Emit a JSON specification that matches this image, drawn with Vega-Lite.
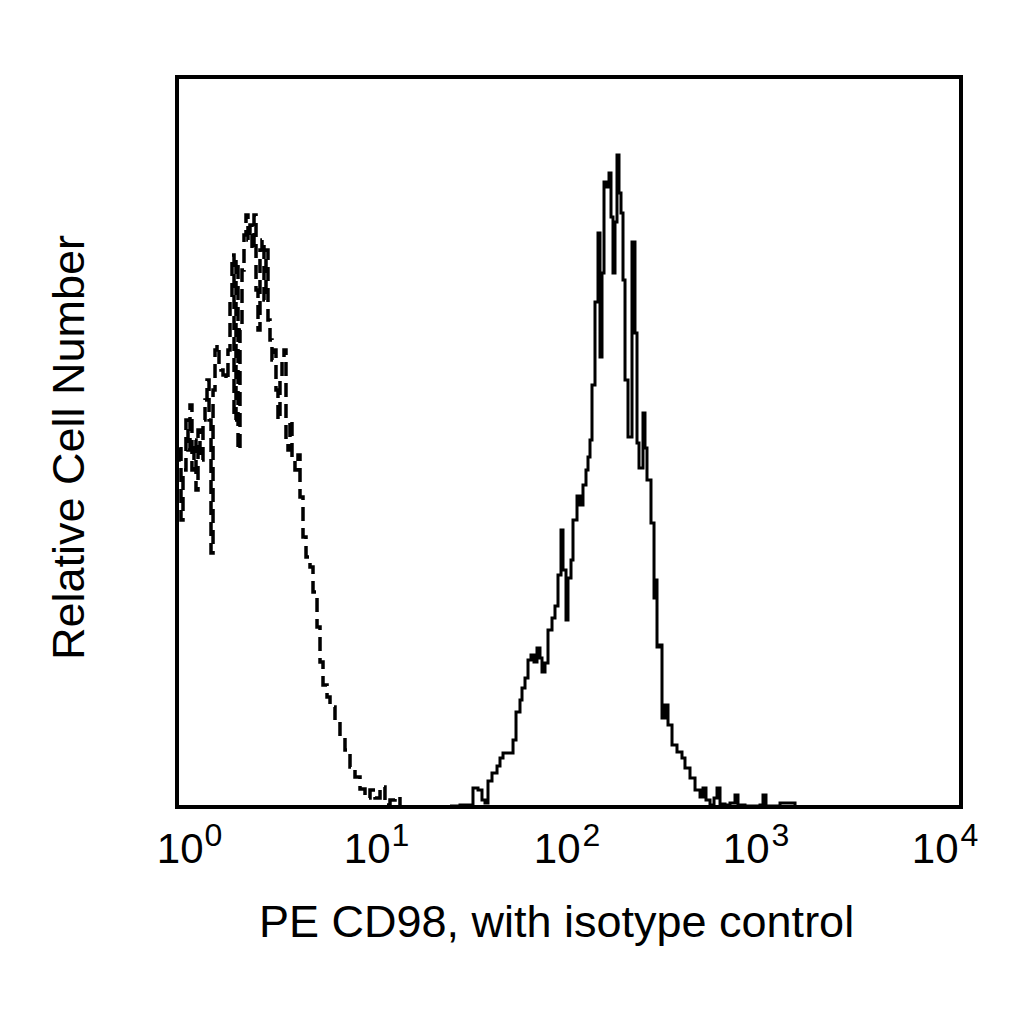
{
  "$schema": "https://vega.github.io/schema/vega-lite/v6.json",
  "width": 784,
  "height": 730,
  "autosize": {"type": "none"},
  "padding": {"left": 177, "top": 77, "right": 63, "bottom": 217},
  "background": "white",
  "config": {
    "view": {"stroke": "black", "strokeWidth": 4},
    "font": "Liberation Sans"
  },
  "datasets": {
    "cd98": [
      {"x": 24.71, "count": 1}, {"x": 27.79, "count": 2}, {"x": 31.26, "count": 2}, {"x": 32.37, "count": 19},
      {"x": 34.34, "count": 17}, {"x": 35.98, "count": 7}, {"x": 37.27, "count": 4}, {"x": 38.61, "count": 26},
      {"x": 40.47, "count": 34}, {"x": 42.93, "count": 41}, {"x": 44.46, "count": 49}, {"x": 46.06, "count": 54},
      {"x": 51.81, "count": 67}, {"x": 53.66, "count": 95}, {"x": 56.23, "count": 107}, {"x": 57.57, "count": 119},
      {"x": 59.64, "count": 129}, {"x": 61.78, "count": 147}, {"x": 63.99, "count": 152}, {"x": 66.29, "count": 145},
      {"x": 68.66, "count": 159}, {"x": 71.12, "count": 149}, {"x": 72.82, "count": 135}, {"x": 75.44, "count": 144},
      {"x": 78.14, "count": 177}, {"x": 81.9, "count": 189}, {"x": 84.83, "count": 201}, {"x": 87.88, "count": 232},
      {"x": 91.03, "count": 277}, {"x": 93.2, "count": 237}, {"x": 96.54, "count": 187}, {"x": 98.83, "count": 229},
      {"x": 102.38, "count": 247}, {"x": 104.81, "count": 287}, {"x": 109.86, "count": 311}, {"x": 113.8, "count": 302},
      {"x": 117.87, "count": 322}, {"x": 122.1, "count": 337}, {"x": 125.01, "count": 350}, {"x": 127.98, "count": 367},
      {"x": 131.02, "count": 422}, {"x": 135.72, "count": 505}, {"x": 140.6, "count": 574}, {"x": 143.94, "count": 450},
      {"x": 147.36, "count": 534}, {"x": 150.87, "count": 625}, {"x": 156.3, "count": 620}, {"x": 160.0, "count": 634},
      {"x": 163.8, "count": 590}, {"x": 167.68, "count": 534}, {"x": 171.67, "count": 585}, {"x": 175.75, "count": 652},
      {"x": 179.93, "count": 614}, {"x": 184.2, "count": 594}, {"x": 188.6, "count": 527}, {"x": 193.1, "count": 427},
      {"x": 200.0, "count": 370}, {"x": 209.62, "count": 565}, {"x": 217.1, "count": 474}, {"x": 222.3, "count": 364},
      {"x": 227.6, "count": 339}, {"x": 238.51, "count": 394}, {"x": 244.18, "count": 359}, {"x": 249.99, "count": 327},
      {"x": 262.0, "count": 284}, {"x": 271.5, "count": 209}, {"x": 274.7, "count": 227}, {"x": 281.2, "count": 160},
      {"x": 291.3, "count": 162}, {"x": 298.2, "count": 89}, {"x": 308.9, "count": 102}, {"x": 320.0, "count": 82},
      {"x": 335.4, "count": 62}, {"x": 355.6, "count": 55}, {"x": 377.1, "count": 49}, {"x": 390.6, "count": 39},
      {"x": 414.3, "count": 29}, {"x": 439.5, "count": 17}, {"x": 466.1, "count": 10}, {"x": 482.8, "count": 19},
      {"x": 500.0, "count": 7}, {"x": 524.1, "count": 2}, {"x": 549.4, "count": 9}, {"x": 569.1, "count": 19},
      {"x": 589.5, "count": 3}, {"x": 625.2, "count": 2}, {"x": 662.9, "count": 4}, {"x": 703.0, "count": 12},
      {"x": 728.2, "count": 2}, {"x": 790.7, "count": 1}, {"x": 943.0, "count": 2}, {"x": 976.8, "count": 12},
      {"x": 1011.8, "count": 1}, {"x": 1192.9, "count": 4}, {"x": 1341.8, "count": 4}, {"x": 1422.9, "count": 1}
    ],
    "isotype": [
      {"x": 1.0, "count": 347}, {"x": 1.024, "count": 362}, {"x": 1.048, "count": 287}, {"x": 1.073, "count": 337},
      {"x": 1.111, "count": 387}, {"x": 1.138, "count": 357}, {"x": 1.165, "count": 402}, {"x": 1.192, "count": 337},
      {"x": 1.221, "count": 367}, {"x": 1.25, "count": 317}, {"x": 1.28, "count": 377}, {"x": 1.31, "count": 347},
      {"x": 1.357, "count": 387}, {"x": 1.39, "count": 407}, {"x": 1.423, "count": 427}, {"x": 1.457, "count": 387},
      {"x": 1.491, "count": 254}, {"x": 1.527, "count": 417}, {"x": 1.563, "count": 457}, {"x": 1.6, "count": 462},
      {"x": 1.638, "count": 442}, {"x": 1.677, "count": 437}, {"x": 1.717, "count": 432}, {"x": 1.778, "count": 427},
      {"x": 1.82, "count": 457}, {"x": 1.864, "count": 507}, {"x": 1.908, "count": 552}, {"x": 1.954, "count": 387},
      {"x": 2.0, "count": 547}, {"x": 2.048, "count": 357}, {"x": 2.096, "count": 477}, {"x": 2.146, "count": 537},
      {"x": 2.197, "count": 572}, {"x": 2.249, "count": 592}, {"x": 2.302, "count": 567}, {"x": 2.357, "count": 582},
      {"x": 2.414, "count": 557}, {"x": 2.471, "count": 592}, {"x": 2.53, "count": 517}, {"x": 2.59, "count": 477},
      {"x": 2.651, "count": 557}, {"x": 2.714, "count": 567}, {"x": 2.779, "count": 507}, {"x": 2.845, "count": 557},
      {"x": 2.912, "count": 487}, {"x": 2.982, "count": 467}, {"x": 3.052, "count": 447}, {"x": 3.125, "count": 457},
      {"x": 3.199, "count": 417}, {"x": 3.275, "count": 387}, {"x": 3.353, "count": 427}, {"x": 3.434, "count": 447},
      {"x": 3.515, "count": 457}, {"x": 3.598, "count": 367}, {"x": 3.684, "count": 357}, {"x": 3.771, "count": 387},
      {"x": 3.861, "count": 347}, {"x": 3.999, "count": 337}, {"x": 4.143, "count": 352}, {"x": 4.242, "count": 310},
      {"x": 4.394, "count": 270}, {"x": 4.552, "count": 250}, {"x": 4.771, "count": 240}, {"x": 4.942, "count": 215},
      {"x": 5.181, "count": 180}, {"x": 5.366, "count": 145}, {"x": 5.558, "count": 122}, {"x": 5.827, "count": 110},
      {"x": 6.035, "count": 100}, {"x": 6.399, "count": 85}, {"x": 6.785, "count": 70}, {"x": 7.196, "count": 57},
      {"x": 7.633, "count": 40}, {"x": 8.094, "count": 30}, {"x": 8.585, "count": 18}, {"x": 9.103, "count": 9},
      {"x": 9.654, "count": 17}, {"x": 10.24, "count": 9}, {"x": 10.86, "count": 20}, {"x": 11.51, "count": 2},
      {"x": 12.21, "count": 7}, {"x": 12.95, "count": 10}, {"x": 13.73, "count": 1}
    ]
  },
  "layer": [
    {
      "data": {"name": "cd98"},
      "mark": {"type": "line", "interpolate": "step-after", "color": "black", "strokeWidth": 3},
      "encoding": {
        "x": {
          "field": "x", "type": "quantitative",
          "scale": {"type": "log", "domain": [1, 10000], "nice": false},
          "axis": {
            "values": [1, 10, 100, 1000, 10000],
            "labelExpr": "'10'",
            "ticks": false, "tickSize": 0, "domain": false, "grid": false,
            "labelFont": "Liberation Sans", "labelFontSize": 42, "labelColor": "black",
            "labelBaseline": "alphabetic", "labelAlign": "right", "labelPadding": 55, "labelFlush": false, "labelOverlap": false,
            "labelOffset": {"condition": [
              {"test": "datum.value == 1", "value": 26},
              {"test": "datum.value == 10", "value": 17},
              {"test": "datum.value == 100", "value": 11},
              {"test": "datum.value == 1000", "value": 4}
            ], "value": -3},
            "title": "PE CD98, with isotype control",
            "titleFont": "Liberation Sans", "titleFontSize": 45, "titleFontWeight": "normal", "titleColor": "black",
            "titleBaseline": "alphabetic", "titleAlign": "center", "titleX": 379, "titleY": 129
          }
        },
        "y": {
          "field": "count", "type": "quantitative",
          "scale": {"domain": [0, 730], "nice": false},
          "axis": {
            "labels": false, "ticks": false, "domain": false, "grid": false,
            "title": "Relative Cell Number",
            "titleFont": "Liberation Sans", "titleFontSize": 45, "titleFontWeight": "normal", "titleColor": "black",
            "titleBaseline": "alphabetic", "titleAlign": "center", "titleAngle": -90, "titleX": -94, "titleY": 370
          }
        }
      }
    },
    {
      "data": {"name": "isotype"},
      "mark": {"type": "line", "interpolate": "step-after", "color": "black", "strokeWidth": 3.5, "strokeDash": [14, 7]},
      "encoding": {
        "x": {
          "field": "x", "type": "quantitative",
          "scale": {"type": "log", "domain": [1, 10000], "nice": false},
          "axis": {
            "orient": "bottom",
            "values": [1, 10, 100, 1000, 10000],
            "labelExpr": "'' + round(log(datum.value) / LN10)",
            "ticks": false, "tickSize": 0, "domain": false, "grid": false,
            "labelFont": "Liberation Sans", "labelFontSize": 32, "labelColor": "black",
            "labelBaseline": "alphabetic", "labelAlign": "left", "labelPadding": 38, "labelFlush": false, "labelOverlap": false,
            "labelOffset": {"condition": [
              {"test": "datum.value == 1", "value": 27},
              {"test": "datum.value == 10", "value": 18},
              {"test": "datum.value == 100", "value": 13},
              {"test": "datum.value == 1000", "value": 6}
            ], "value": -1},
            "title": null
          }
        },
        "y": {"field": "count", "type": "quantitative", "scale": {"domain": [0, 730], "nice": false}}
      }
    }
  ],
  "resolve": {"axis": {"x": "independent"}}
}
